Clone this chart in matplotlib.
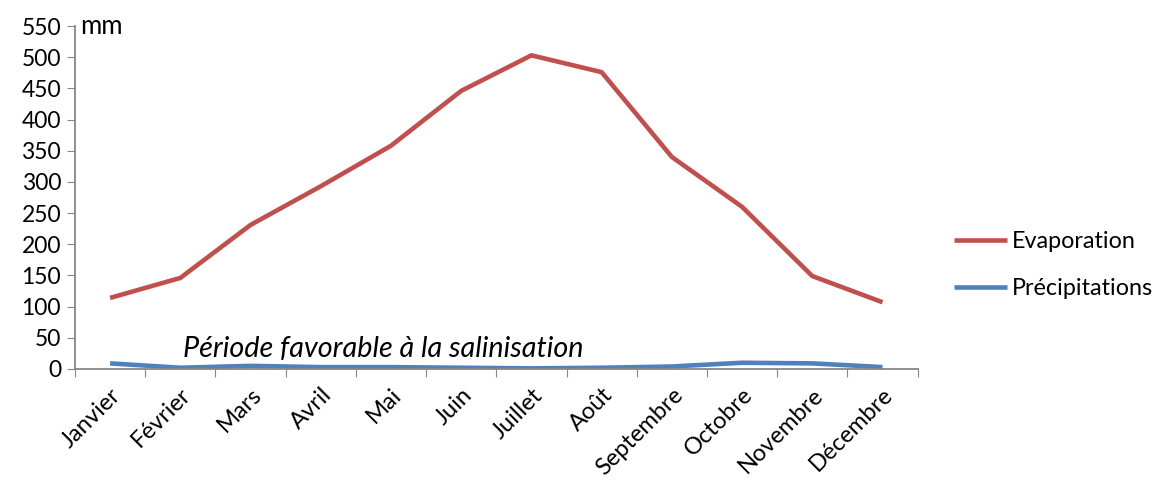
import numpy as np
import matplotlib
matplotlib.use("Agg")
import matplotlib.pyplot as plt

plt.rcParams['font.family'] = ['Lato', 'DejaVu Sans']

# Données
mois = ['Janvier', 'Février', 'Mars', 'Avril', 'Mai', 'Juin', 'Juillet',
        'Août', 'Septembre', 'Octobre', 'Novembre', 'Décembre']
evaporation = [114, 146, 231, 293, 358, 446, 503, 476, 340, 260, 149, 107]
precipitations = [9, 2, 5, 3, 3, 2, 1, 2, 4, 10, 9, 3]
yticks = list(range(0, 551, 50))

rouge = '#C0504D'
bleu = '#4F81BD'
gris = '#868686'

fig = plt.figure(figsize=(11.66, 4.91), dpi=100)
ax = fig.add_axes([0.0643, 0.2485, 0.7227, 0.6985])

x = np.arange(len(mois))
ax.plot(x, evaporation, color=rouge, lw=3.3, solid_capstyle='butt', label='Evaporation')
ax.plot(x, precipitations, color=bleu, lw=3.3, solid_capstyle='butt', label='Précipitations')

ax.set_xlim(-0.5, len(mois) - 0.5)
ax.set_ylim(0, 550)

# graduations y
ax.set_yticks(yticks)
ax.tick_params(axis='y', direction='out', length=6, color=gris, labelsize=16.5, pad=4)

# graduations x entre les catégories, étiquettes au centre
ax.set_xticks(np.arange(-0.5, len(mois), 1.0))
ax.set_xticklabels([])
ax.set_xticks(x, minor=True)
ax.set_xticklabels(mois, minor=True, rotation=45, ha='right', va='top',
                   rotation_mode='anchor', fontsize=17)
ax.tick_params(axis='x', which='major', direction='out', length=6, color=gris)
ax.tick_params(axis='x', which='minor', length=0, pad=11)

for s in ['top', 'right']:
    ax.spines[s].set_visible(False)
for s in ['left', 'bottom']:
    ax.spines[s].set_color(gris)
    ax.spines[s].set_linewidth(1.3)

ax.text(-0.43, 550, 'mm', fontsize=18.5, va='center', ha='left')
ax.text(1.04, 11, 'Période favorable à la salinisation', fontsize=20.7,
        style='italic', ha='left', va='bottom')

fig.legend(loc='center left', bbox_to_anchor=(0.8, 0.46), frameon=False,
           fontsize=16.8, handlelength=2.3, handletextpad=0.2, labelspacing=1.1)

fig.savefig('out.png', dpi=100)
